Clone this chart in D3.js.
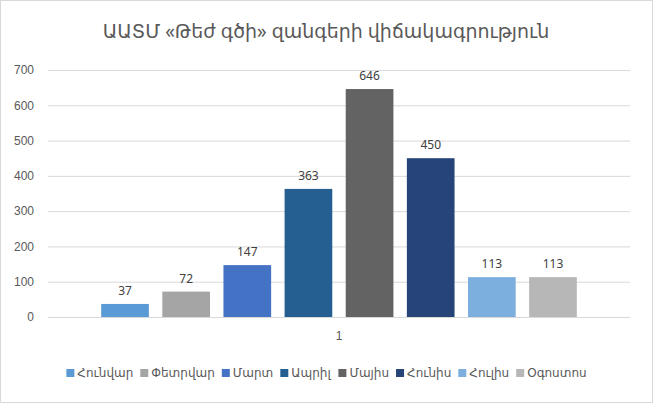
<!DOCTYPE html>
<html>
<head>
<meta charset="utf-8">
<script src="https://cdn.jsdelivr.net/npm/d3@7"></script>
<style>
  body { margin: 0; background: #fff; }
  svg { font-family: "Noto Sans", "DejaVu Sans", sans-serif; }
</style>
</head>
<body>
<svg width="653" height="403"></svg>
<script>
var categories = ["1"];
var months = ["Հունվար", "Փետրվար", "Մարտ", "Ապրիլ", "Մայիս", "Հունիս", "Հուլիս", "Օգոստոս"];
var values = [37, 72, 147, 363, 646, 450, 113, 113];
var colors = ["#5b9bd5", "#a5a5a5", "#4472c4", "#255e91", "#636363", "#264478", "#7cafdd", "#b7b7b7"];
var yTicks = [0, 100, 200, 300, 400, 500, 600, 700];

var svg = d3.select("svg");
svg.append("rect").attr("x", 0.5).attr("y", 0.5).attr("width", 652).attr("height", 402)
    .attr("fill", "#fff").attr("stroke", "#d9d9d9");

var margin = { left: 48, right: 23, top: 70, bottom: 86 },
    width = 653 - margin.left - margin.right,
    height = 403 - margin.top - margin.bottom;

var g = svg.append("g").attr("transform", "translate(" + margin.left + "," + margin.top + ")");

var x0 = d3.scaleBand().domain(categories).range([0, width]).paddingInner(0).paddingOuter(0.095);
var x1 = d3.scaleBand().domain(months).range([0, x0.bandwidth()]).paddingInner(0.22).paddingOuter(0.11);
var y = d3.scaleLinear().domain([0, 700]).range([height, 0]);

g.selectAll(".grid").data(yTicks).enter().append("line")
    .attr("x1", 0).attr("x2", width)
    .attr("y1", function (d) { return y(d) + 0.5; })
    .attr("y2", function (d) { return y(d) + 0.5; })
    .attr("stroke", "#d9d9d9");

var yAxis = g.append("g").call(d3.axisLeft(y).tickValues(yTicks).tickSize(0).tickPadding(14));
yAxis.select(".domain").remove();
yAxis.selectAll("text").attr("fill", "#595959").style("font-size", "12px");

var xAxis = g.append("g").attr("transform", "translate(0," + height + ")")
    .call(d3.axisBottom(x0).tickSize(0).tickPadding(14));
xAxis.select(".domain").remove();
xAxis.selectAll("text").attr("fill", "#595959").style("font-size", "12px");

var grp = g.selectAll(".grp").data(categories).enter().append("g")
    .attr("transform", function (c) { return "translate(" + x0(c) + ",0)"; });

grp.selectAll("rect").data(months).enter().append("rect")
    .attr("x", function (m) { return x1(m); })
    .attr("y", function (m, i) { return y(values[i]); })
    .attr("width", x1.bandwidth())
    .attr("height", function (m, i) { return height - y(values[i]); })
    .attr("fill", function (m, i) { return colors[i]; });

grp.selectAll(".lbl").data(months).enter().append("text")
    .attr("x", function (m) { return x1(m) + x1.bandwidth() / 2; })
    .attr("y", function (m, i) { return y(values[i]) - 9; })
    .attr("text-anchor", "middle")
    .attr("fill", "#404040").style("font-size", "12px")
    .text(function (m, i) { return values[i]; });

svg.append("text").attr("x", 326).attr("y", 38).attr("text-anchor", "middle")
    .attr("fill", "#595959").style("font-size", "19px")
    .text("ԱԱՏՄ «Թեժ գծի» զանգերի վիճակագրություն");

var legend = svg.append("g").attr("transform", "translate(0,377)");
var items = legend.selectAll("g").data(months).enter().append("g");
items.append("rect").attr("width", 8).attr("height", 8).attr("y", -8)
    .attr("fill", function (m, i) { return colors[i]; });
items.append("text").attr("x", 11).attr("y", 0)
    .attr("fill", "#595959").style("font-size", "12px").text(function (m) { return m; });
var pos = 0, offs = [];
items.each(function () { offs.push(pos); pos += this.getBBox().width + 7; });
var start = (653 - (pos - 7)) / 2;
items.attr("transform", function (m, i) { return "translate(" + (start + offs[i]) + ",0)"; });
</script>
</body>
</html>
